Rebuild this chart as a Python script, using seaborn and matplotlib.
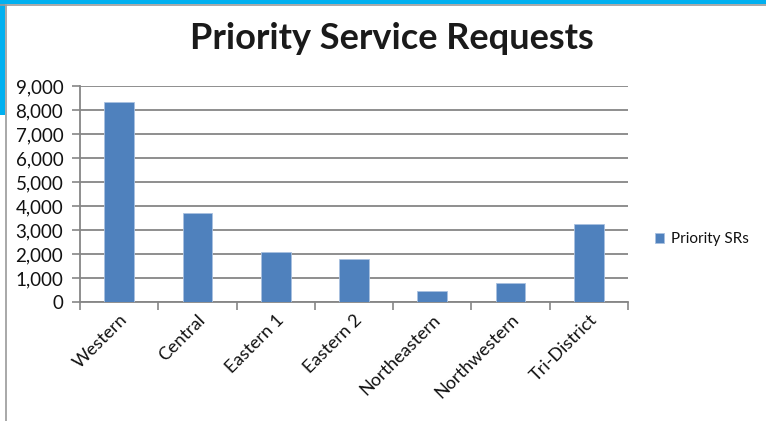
import matplotlib
matplotlib.use('Agg')
import matplotlib.pyplot as plt
import seaborn as sns
import pandas as pd
from matplotlib.patches import Rectangle
from matplotlib.lines import Line2D
from matplotlib.ticker import FuncFormatter, FixedLocator

districts = ['Western', 'Central', 'Eastern 1', 'Eastern 2', 'Northeastern',
             'Northwestern', 'Tri-District']
priority_srs = [8350, 3700, 2100, 1800, 470, 780, 3260]

df = pd.DataFrame({'district': districts, 'srs': priority_srs})

sns.set_style('white')
plt.rcParams['font.family'] = ['Lato', 'DejaVu Sans']

fig = plt.figure(figsize=(7.66, 4.21), dpi=100)
ax = fig.add_axes([80 / 766, 119 / 421, 548 / 766, 216 / 421])

sns.barplot(data=df, x='district', y='srs', color='#4F81BD', width=0.38,
            saturation=1, edgecolor='#A9C1E0', linewidth=0.6,
            label='Priority SRs', ax=ax, zorder=3)

grid_c = '#868686'
ax.set_ylim(0, 9000)
ax.set_xlim(-0.5, 6.5)
ax.set_yticks(range(0, 9001, 1000))
ax.yaxis.set_major_formatter(FuncFormatter(lambda v, p: f'{int(v):,}'))
ax.grid(axis='y', color=grid_c, linewidth=1.3, zorder=0)
ax.set_axisbelow(True)

for s in ['top', 'right']:
    ax.spines[s].set_visible(False)
for s in ['left', 'bottom']:
    ax.spines[s].set_color(grid_c)
    ax.spines[s].set_linewidth(1.3)

ax.tick_params(axis='y', length=6, color=grid_c, width=1.2, labelsize=13.5,
               pad=6, left=True, labelcolor='#111111')
ax.xaxis.set_minor_locator(FixedLocator([i - 0.5 for i in range(8)]))
ax.tick_params(axis='x', which='major', length=0, labelsize=13, pad=7,
               labelcolor='#111111')
ax.tick_params(axis='x', which='minor', length=6, color=grid_c, width=1.2,
               bottom=True)
plt.setp(ax.get_xticklabels(), rotation=45, ha='right', rotation_mode='anchor')

ax.set_xlabel('')
ax.set_ylabel('')

leg = ax.legend(loc='center left', bbox_to_anchor=(1.025, 0.29), frameon=False,
                fontsize=11, handlelength=0.55, handleheight=0.55,
                handletextpad=0.45, labelcolor='#111111')

fig.text(0.512, 0.908, 'Priority Service Requests', ha='center', va='center',
         fontsize=26, fontweight='bold', color='#1a1a1a')

# slide frame
fig.add_artist(Rectangle((0, 1 - 4 / 421), 1, 4 / 421, transform=fig.transFigure,
                         color='#00B0F0', lw=0))
fig.add_artist(Rectangle((0, 1 - 115 / 421), 5 / 766, 115 / 421,
                         transform=fig.transFigure, color='#00B0F0', lw=0))
fig.add_artist(Line2D([0, 1], [1 - 5 / 421, 1 - 5 / 421], transform=fig.transFigure,
                      color='#9a9a9a', lw=1.2))
fig.add_artist(Line2D([5.5 / 766, 5.5 / 766], [0, 1 - 5 / 421],
                      transform=fig.transFigure, color='#9a9a9a', lw=1.2))

fig.savefig('out.png', dpi=100)
